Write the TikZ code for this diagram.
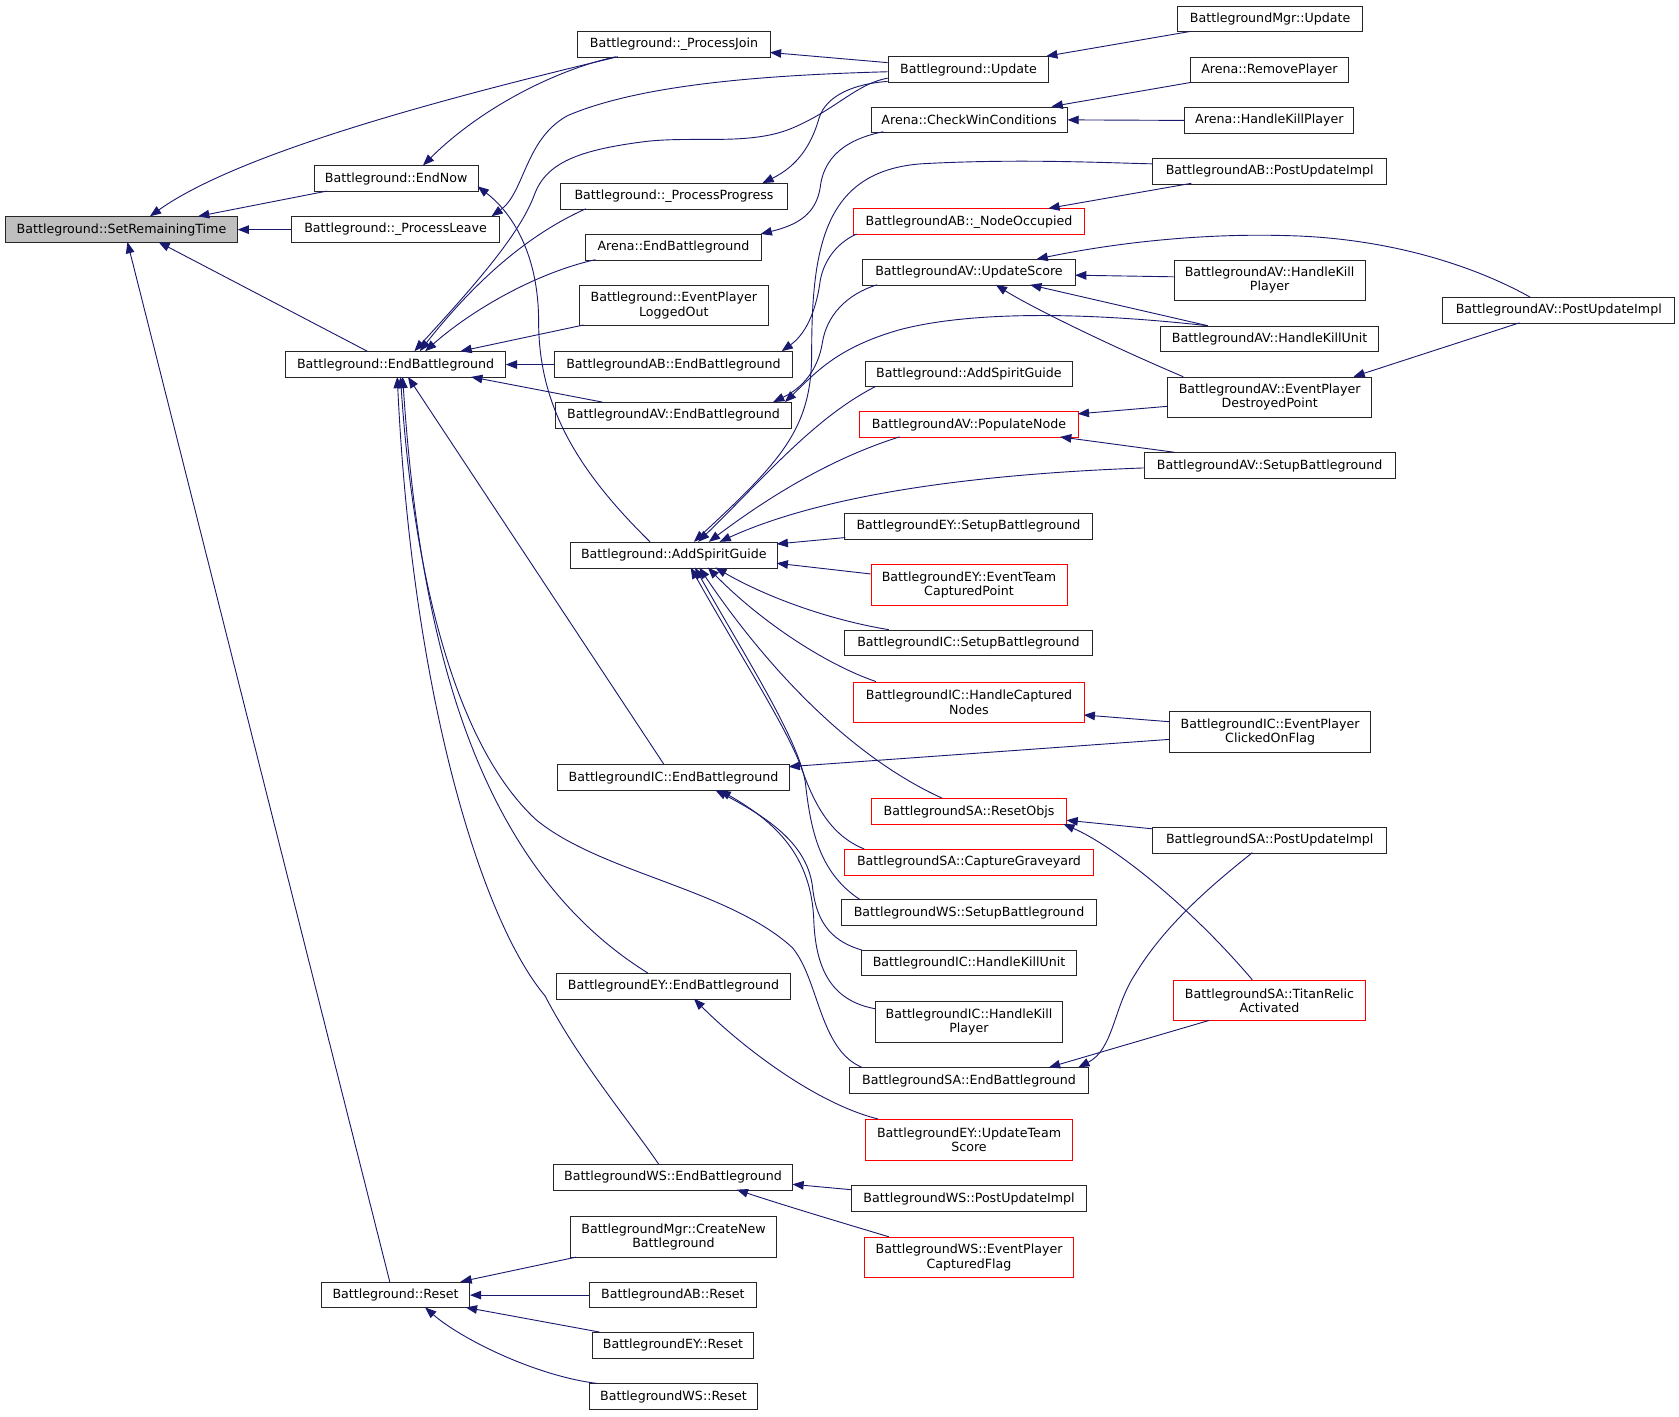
\documentclass[tikz,border=0pt]{standalone}
\usepackage{fontspec}
\newfontfamily\dvs{DejaVu Sans}
\usetikzlibrary{arrows.meta,calc}
\definecolor{edgeblue}{HTML}{191970}
\definecolor{srtgray}{HTML}{BFBFBF}
\newcommand\mkbox[7]{\node[#1, minimum width=#5pt, minimum height=#6pt] (#2) at (#3,#4) {#7};}
\tikzset{
  box/.style={draw=black!85, line width=0.9pt, fill=white, inner sep=0pt, anchor=north west, align=center, font={\dvs\fontsize{11.8}{13.4}\selectfont}},
  redbox/.style={box, draw=red},
  graybox/.style={box, fill=srtgray},
  e/.style={draw=edgeblue, line width=0.85pt, {Triangle[length=10.5pt,width=8pt]}-},
}
\begin{document}
\begin{tikzpicture}[x=1pt,y=-1pt]
\fill[white] (0,0) rectangle (1568,1322.4);
\useasboundingbox (0,0) rectangle (1568,1322.4);
% column 0/1
\mkbox{graybox}{srt}{5}{202}{216}{24}{Battleground::SetRemainingTime}
\mkbox{box}{endnow}{293}{154.5}{153}{24}{Battleground::EndNow}
\mkbox{box}{pleave}{272}{202}{194}{24}{Battleground::\_ProcessLeave}
\mkbox{box}{endbg}{266.5}{328}{205}{24}{Battleground::EndBattleground}
\mkbox{box}{reset}{300}{1197}{138}{24}{Battleground::Reset}
% column 2
\mkbox{box}{pjoin}{539}{29}{180}{24}{Battleground::\_ProcessJoin}
\mkbox{box}{pprog}{523}{171}{212}{24}{Battleground::\_ProcessProgress}
\mkbox{box}{arenaend}{546.5}{218.5}{164}{24}{Arena::EndBattleground}
\mkbox{box}{loggedout}{540.8}{266.5}{176}{37}{Battleground::EventPlayer\\LoggedOut}
\mkbox{box}{abend}{517}{328}{223}{24}{BattlegroundAB::EndBattleground}
\mkbox{box}{avend}{518}{375.5}{221}{24}{BattlegroundAV::EndBattleground}
\mkbox{box}{asg}{532.3}{506}{193}{24}{Battleground::AddSpiritGuide}
\mkbox{box}{icend}{520.5}{713.8}{216}{24}{BattlegroundIC::EndBattleground}
\mkbox{box}{eyend}{519.5}{908.7}{218}{24}{BattlegroundEY::EndBattleground}
\mkbox{box}{wsend}{516}{1087}{224}{24}{BattlegroundWS::EndBattleground}
\mkbox{box}{mgrcreate}{532}{1136}{193}{38}{BattlegroundMgr::CreateNew\\Battleground}
\mkbox{box}{abreset}{550}{1197}{156}{24}{BattlegroundAB::Reset}
\mkbox{box}{eyreset}{553}{1244}{150}{24}{BattlegroundEY::Reset}
\mkbox{box}{wsreset}{550}{1292}{157}{24}{BattlegroundWS::Reset}
% column 3
\mkbox{box}{update}{829}{52.5}{150}{24}{Battleground::Update}
\mkbox{box}{checkwin}{813}{99.5}{183}{24}{Arena::CheckWinConditions}
\mkbox{redbox}{nodeocc}{797}{194.6}{215}{24}{BattlegroundAB::\_NodeOccupied}
\mkbox{box}{updscore}{805}{242}{199}{24}{BattlegroundAV::UpdateScore}
\mkbox{box}{asg2}{807.4}{336.8}{194}{24}{Battleground::AddSpiritGuide}
\mkbox{redbox}{popnode}{802.5}{384}{204}{24}{BattlegroundAV::PopulateNode}
\mkbox{box}{eysetup}{788.5}{479}{231}{24}{BattlegroundEY::SetupBattleground}
\mkbox{redbox}{eyteam}{813}{527}{183}{38}{BattlegroundEY::EventTeam\\CapturedPoint}
\mkbox{box}{icsetup}{788.5}{588}{231}{24}{BattlegroundIC::SetupBattleground}
\mkbox{redbox}{iccapt}{797}{636.5}{215}{37.5}{BattlegroundIC::HandleCaptured\\Nodes}
\mkbox{redbox}{saresetobjs}{813.5}{745.5}{182}{24}{BattlegroundSA::ResetObjs}
\mkbox{redbox}{sacapgy}{788.5}{792.8}{232}{24}{BattlegroundSA::CaptureGraveyard}
\mkbox{box}{wssetup}{785.5}{840}{238}{24}{BattlegroundWS::SetupBattleground}
\mkbox{box}{ickillunit}{804.5}{886.8}{200}{24}{BattlegroundIC::HandleKillUnit}
\mkbox{box}{ickillpl}{817}{935}{175}{38}{BattlegroundIC::HandleKill\\Player}
\mkbox{box}{saend}{793}{996.8}{223}{24}{BattlegroundSA::EndBattleground}
\mkbox{redbox}{eyupd}{808}{1045}{193}{38}{BattlegroundEY::UpdateTeam\\Score}
\mkbox{box}{wspost}{794.5}{1107}{220}{24}{BattlegroundWS::PostUpdateImpl}
\mkbox{redbox}{wscapflag}{807}{1155}{195}{38}{BattlegroundWS::EventPlayer\\CapturedFlag}
% column 4/5
\mkbox{box}{mgrupd}{1099.5}{5.3}{172.5}{24}{BattlegroundMgr::Update}
\mkbox{box}{removepl}{1111}{53}{148}{24}{Arena::RemovePlayer}
\mkbox{box}{hkillpl}{1106}{100}{158}{24}{Arena::HandleKillPlayer}
\mkbox{box}{abpost}{1076}{147.6}{218.6}{24}{BattlegroundAB::PostUpdateImpl}
\mkbox{box}{avhkpl}{1096}{242.5}{178.5}{37.7}{BattlegroundAV::HandleKill\\Player}
\mkbox{box}{avhkunit}{1083.6}{304.2}{203.3}{24}{BattlegroundAV::HandleKillUnit}
\mkbox{box}{avdestroy}{1089.8}{351.8}{191}{37.6}{BattlegroundAV::EventPlayer\\DestroyedPoint}
\mkbox{box}{avsetup}{1068}{422.4}{234.4}{24}{BattlegroundAV::SetupBattleground}
\mkbox{box}{icclick}{1092}{664}{187.5}{38.4}{BattlegroundIC::EventPlayer\\ClickedOnFlag}
\mkbox{box}{sapost}{1076}{772.3}{218.6}{24}{BattlegroundSA::PostUpdateImpl}
\mkbox{redbox}{satitan}{1095.7}{915}{178.8}{38}{BattlegroundSA::TitanRelic\\Activated}
\mkbox{box}{avpost}{1347}{277.5}{216.5}{24}{BattlegroundAV::PostUpdateImpl}
% edges
\draw[e] ($(srt.north west)+(135,0)$) .. controls (220,145) and (400,95) .. ($(pjoin.north west)+(38,24)$);
\draw[e] ($(srt.north west)+(180,0)$) -- ($(endnow.north west)+(12,24)$);
\draw[e] (srt.east) -- (pleave.west);
\draw[e] ($(srt.north west)+(143,24)$) -- ($(endbg.north west)+(76.5,0)$);
\draw[e] ($(srt.north west)+(114,24)$) -- ($(reset.north west)+(64,0)$);
\draw[e] ($(endnow.north west)+(102,0)$) .. controls (450,100) and (520,65) .. ($(pjoin.north west)+(36,24)$);
\draw[e] ($(endnow.north west)+(153,19.5)$) .. controls (480,200) and (503,240) .. (503,300) .. controls (503,380) and (540,440) .. ($(asg.north west)+(74.7,0)$);
\draw[e] ($(pleave.north west)+(187,0)$) .. controls (490,180) and (490,130) .. (530,108) .. controls (600,78) and (720,70) .. ($(update.north west)+(0,14.5)$);
\draw[e] ($(pjoin.north west)+(180,20)$) -- ($(update.north west)+(0,6)$);
\draw[e] ($(endbg.north west)+(120.5,0)$) .. controls (440,270) and (485,220) .. (499,182) .. controls (510,152) and (540,140) .. (604,132) .. controls (650,127) and (700,136) .. (739,120) .. controls (780,103) and (800,78) .. ($(update.north west)+(0,20.5)$);
\draw[e] ($(pprog.north west)+(189,0)$) .. controls (745,155) and (758,135) .. (765,110) .. controls (772,88) and (800,78) .. ($(update.north west)+(0,23.5)$);
\draw[e] ($(arenaend.north east)+(-1,0)$) .. controls (745,210) and (762,200) .. (766,175) .. controls (770,140) and (800,128) .. ($(checkwin.north west)+(12,23.5)$);
\draw[e] ($(checkwin.north west)+(169,0)$) -- ($(removepl.north west)+(1,24)$);
\draw[e] (checkwin.east) -- (hkillpl.west);
\draw[e] ($(update.north west)+(148,0)$) -- ($(mgrupd.north west)+(12.5,24)$);
\draw[e] ($(nodeocc.north west)+(182,0)$) -- ($(abpost.north west)+(36.6,23.6)$);
\draw[e] ($(asg.north west)+(115.7,0)$) .. controls (730,430) and (758,400) .. (758,330) .. controls (758,230) and (770,160) .. (860,153) .. controls (950,148) and (1030,152) .. ($(abpost.north west)+(0,5.4)$);
\draw[e] ($(abend.north west)+(213,0)$) .. controls (755,310) and (763,285) .. (766,262) .. controls (770,240) and (785,225) .. ($(nodeocc.north west)+(3,24)$);
\draw[e] ($(avend.north west)+(204,0)$) .. controls (750,362) and (764,345) .. (768,320) .. controls (772,295) and (790,275) .. ($(updscore.north west)+(14,24)$);
\draw[e] ($(avend.north west)+(215,0)$) .. controls (760,350) and (780,325) .. (840,308) .. controls (900,292) and (1000,290) .. ($(avhkunit.north west)+(44.4,0)$);
\draw[e] ($(updscore.north west)+(199,15)$) -- ($(avhkpl.north west)+(0,16)$);
\draw[e] ($(updscore.north west)+(157,24)$) -- ($(avhkunit.north west)+(44.4,0)$);
\draw[e] ($(updscore.north west)+(125,24)$) .. controls (960,285) and (1030,320) .. ($(avdestroy.north west)+(15.2,0)$);
\draw[e] ($(updscore.north west)+(163,0)$) .. controls (1050,225) and (1130,218) .. (1200,220) .. controls (1300,222) and (1380,250) .. ($(avpost.north west)+(82,0)$);
\draw[e] ($(avdestroy.north west)+(174.2,0)$) -- ($(avpost.north west)+(72,24)$);
\draw[e] ($(popnode.north west)+(204,2.5)$) -- ($(avdestroy.north west)+(0,27.7)$);
\draw[e] ($(popnode.north west)+(187.5,24)$) -- ($(avsetup.north west)+(29,0)$);
\draw[e] ($(asg.north west)+(119.7,0)$) .. controls (710,450) and (760,390) .. ($(asg2.north west)+(10.6,24)$);
\draw[e] ($(asg.north west)+(129.7,0)$) .. controls (710,470) and (770,430) .. ($(popnode.north west)+(37.5,24)$);
\draw[e] ($(asg.north west)+(139.7,0)$) .. controls (740,475) and (850,445) .. ($(avsetup.north west)+(0,14.6)$);
\draw[e] ($(asg.north west)+(193,2)$) -- ($(eysetup.north west)+(1,23)$);
\draw[e] ($(asg.north west)+(193,20)$) -- ($(eyteam.north west)+(0,9)$);
\draw[e] ($(asg.north west)+(135.7,24)$) .. controls (720,560) and (780,580) .. ($(icsetup.north west)+(41.5,0)$);
\draw[e] ($(asg.north west)+(128.7,24)$) .. controls (710,580) and (770,620) .. ($(iccapt.north west)+(21,0)$);
\draw[e] ($(asg.north west)+(120.7,24)$) .. controls (700,600) and (780,700) .. ($(saresetobjs.north west)+(66.5,0)$);
\draw[e] ($(asg.north west)+(112.7,24)$) .. controls (690,610) and (735,680) .. (748,716) .. controls (760,750) and (775,780) .. ($(sacapgy.north west)+(18.5,0)$);
\draw[e] ($(asg.north west)+(116.7,24)$) .. controls (700,620) and (745,690) .. (752,730) .. controls (757,775) and (765,815) .. ($(wssetup.north west)+(17.5,0)$);
\draw[e] ($(icend.north west)+(216,2.2)$) -- ($(icclick.north west)+(0,26.5)$);
\draw[e] ($(iccapt.north west)+(215,31.2)$) -- ($(icclick.north west)+(0,10)$);
\draw[e] ($(saresetobjs.north west)+(182.5,20.5)$) -- ($(sapost.north west)+(0,1.7)$);
\draw[e] ($(saresetobjs.north west)+(179.5,24)$) .. controls (1040,790) and (1110,845) .. ($(satitan.north west)+(73.8,0)$);
\draw[e] ($(saend.north west)+(214,0)$) .. controls (1040,980) and (1040,940) .. (1060,910) .. controls (1090,860) and (1140,820) .. ($(sapost.north west)+(93.5,24)$);
\draw[e] ($(saend.north west)+(186.6,0)$) -- ($(satitan.north west)+(33.3,38)$);
\draw[e] ($(icend.north west)+(147.5,24)$) .. controls (720,765) and (755,790) .. (759,830) .. controls (763,865) and (780,880) .. ($(ickillunit.north west)+(0.5,0.5)$);
\draw[e] ($(icend.north west)+(151.5,24)$) .. controls (725,768) and (758,800) .. (760,860) .. controls (762,910) and (780,935) .. ($(ickillpl.north west)+(0,7)$);
\draw[e] ($(endbg.north west)+(114.5,24)$) -- ($(icend.north west)+(99.5,0)$);
\draw[e] ($(endbg.north west)+(107.5,24)$) .. controls (385,520) and (420,690) .. (500,765) .. controls (560,815) and (680,830) .. (740,885) .. controls (765,915) and (765,980) .. ($(saend.north west)+(12,0)$);
\draw[e] ($(endbg.north west)+(109.5,24)$) .. controls (390,560) and (430,800) .. ($(eyend.north west)+(85.5,0)$);
\draw[e] ($(endbg.north west)+(104.5,24)$) .. controls (385,650) and (450,860) .. (509,930) .. controls (540,990) and (590,1050) .. ($(wsend.north west)+(99,0)$);
\draw[e] ($(endbg.north west)+(125.5,0)$) .. controls (430,280) and (480,225) .. ($(pprog.north west)+(24,24)$);
\draw[e] ($(endbg.north west)+(130.5,0)$) .. controls (440,290) and (500,255) .. ($(arenaend.north west)+(9.5,24)$);
\draw[e] ($(endbg.north west)+(163.5,0)$) -- ($(loggedout.north west)+(4.2,37)$);
\draw[e] (endbg.east) -- (abend.west);
\draw[e] ($(endbg.north west)+(173.5,24)$) -- ($(avend.north west)+(44.5,0)$);
\draw[e] ($(eyend.north west)+(128.5,24)$) .. controls (690,975) and (760,1030) .. ($(eyupd.north west)+(12,0)$);
\draw[e] ($(wsend.north west)+(224,19)$) -- ($(wspost.north west)+(0,4)$);
\draw[e] ($(wsend.north west)+(172,24)$) .. controls (730,1125) and (780,1140) .. ($(wscapflag.north west)+(23,0)$);
\draw[e] ($(reset.north west)+(130,0)$) -- ($(mgrcreate.north west)+(6,38)$);
\draw[e] (reset.east) -- (abreset.west);
\draw[e] ($(reset.north west)+(135,24)$) -- ($(eyreset.north west)+(7,0)$);
\draw[e] ($(reset.north west)+(97,24)$) .. controls (430,1250) and (500,1285) .. ($(wsreset.north west)+(8,0)$);
\end{tikzpicture}
\end{document}
